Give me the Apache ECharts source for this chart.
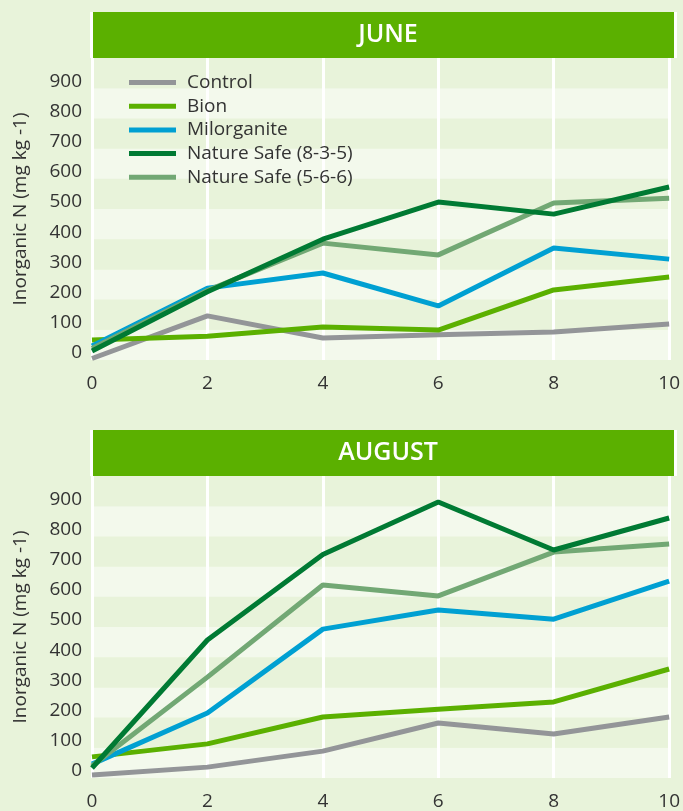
<!DOCTYPE html>
<html>
<head>
<meta charset="utf-8">
<script src="https://cdn.jsdelivr.net/npm/echarts@6/dist/echarts.min.js"></script>
<style>
  html, body { margin: 0; padding: 0; background: #e8f3da; }
  #chart { width: 683px; height: 811px; }
</style>
</head>
<body>
<div id="chart"></div>
<script>
// weeks
const weeks = [0, 2, 4, 6, 8, 10]
const seriesNames = ['Control', 'Bion', 'Milorganite', 'Nature Safe (8-3-5)', 'Nature Safe (5-6-6)']
const colors = ['#939598', '#5bb000', '#00a0d2', '#007a33', '#72a874']

// June, inorganic N (mg kg-1)
const juneControl = [5, 146, 73, 84, 93, 119]
const juneBion = [66, 79, 109, 99, 232, 275]
const juneMilorganite = [46, 238, 288, 179, 371, 334]
const juneNS835 = [30, 226, 400, 523, 483, 573]
const juneNS566 = [38, 230, 387, 348, 520, 536]

// August
const augControl = [10, 36, 89, 182, 146, 202]
const augBion = [70, 113, 202, 228, 252, 361]
const augMilorganite = [46, 215, 493, 556, 526, 652]
const augNS835 = [33, 457, 740, 914, 755, 861]
const augNS566 = [40, 334, 639, 603, 748, 775]

const panelTitles = ['JUNE', 'AUGUST']

const fontFamily = '"Open Sans", "Noto Sans", sans-serif'
const textColor = '#333333'

function pair (vals) {
  return weeks.map((w, i) => [w, vals[i]])
}

const juneData = [juneControl, juneBion, juneMilorganite, juneNS835, juneNS566]
const augData = [augControl, augBion, augMilorganite, augNS835, augNS566]

const grids = [
  { left: 92, right: 8, top: 58, height: 302 },
  { left: 92, right: 8, top: 476, height: 302 }
]

function xAxisFor (idx) {
  return {
    type: 'value',
    gridIndex: idx,
    min: 0,
    max: 10,
    interval: 2,
    axisLine: { show: false },
    axisTick: { show: false },
    splitLine: { show: true, lineStyle: { color: '#ffffff', width: 3 } },
    axisLabel: { color: textColor, fontSize: 19, fontFamily: fontFamily, margin: 14 }
  }
}

function yAxisFor (idx) {
  return {
    type: 'value',
    gridIndex: idx,
    min: 0,
    max: 1000,
    interval: 100,
    name: 'Inorganic N (mg kg -1)',
    nameLocation: 'middle',
    nameGap: 62,
    nameTextStyle: { color: textColor, fontSize: 19, fontFamily: fontFamily },
    axisLine: { show: false },
    axisTick: { show: false },
    splitLine: { show: false },
    splitArea: { show: true, areaStyle: { color: ['#f3f9ec', '#e8f3da'] } },
    axisLabel: {
      color: textColor,
      fontSize: 19,
      fontFamily: fontFamily,
      margin: 10,
      verticalAlign: 'bottom',
      lineHeight: 14,
      showMaxLabel: false,
      formatter: function (v) { return v === 1000 ? '' : v }
    }
  }
}

const series = []
;[juneData, augData].forEach(function (set, g) {
  set.forEach(function (vals, i) {
    series.push({
      name: seriesNames[i],
      type: 'line',
      xAxisIndex: g,
      yAxisIndex: g,
      data: pair(vals),
      symbol: 'none',
      lineStyle: { color: colors[i], width: 5 },
      itemStyle: { color: colors[i] },
      z: i === 3 ? 6 : 5
    })
  })
})

// header bars
const graphics = []
;[12, 430].forEach(function (top, i) {
  graphics.push({ type: 'rect', shape: { x: 93, y: top, width: 581, height: 46 }, style: { fill: '#5bb000' } })
  graphics.push({ type: 'rect', shape: { x: 90, y: top, width: 3, height: 46 }, style: { fill: '#ffffff' } })
  graphics.push({ type: 'rect', shape: { x: 674, y: top, width: 3, height: 46 }, style: { fill: '#ffffff' } })
  graphics.push({
    type: 'text',
    x: 388,
    y: top + 23,
    style: {
      text: panelTitles[i],
      fill: '#ffffff',
      font: '600 25px ' + fontFamily,
      textAlign: 'center',
      textVerticalAlign: 'middle'
    }
  })
})

const myChart = echarts.init(document.getElementById('chart'))
myChart.setOption({
  backgroundColor: '#e8f3da',
  animation: false,
  grid: grids,
  xAxis: [xAxisFor(0), xAxisFor(1)],
  yAxis: [yAxisFor(0), yAxisFor(1)],
  legend: {
    orient: 'vertical',
    left: 124,
    top: 68,
    data: seriesNames,
    icon: 'rect',
    itemWidth: 47,
    itemHeight: 5,
    itemGap: 4.7,
    textStyle: { color: textColor, fontSize: 19, lineHeight: 19, fontFamily: fontFamily, padding: [0, 0, 0, 6] }
  },
  graphic: graphics,
  series: series
})
window.onresize = function () {
  myChart.resize()
}
</script>
</body>
</html>
